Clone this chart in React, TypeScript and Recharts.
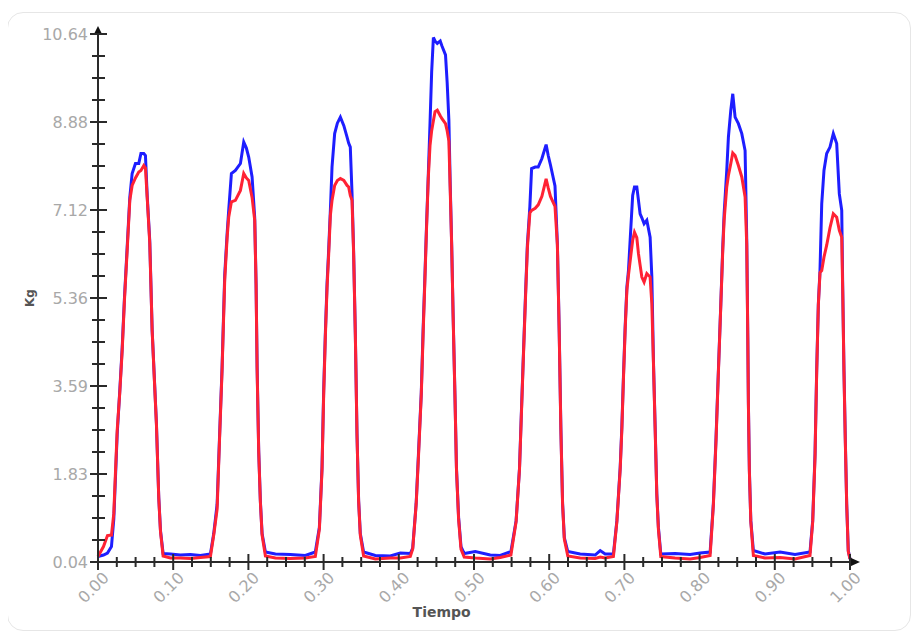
import React from 'react';
import { LineChart, Line, XAxis, YAxis } from 'recharts';

// Tiempo (x) sample positions
const time = [
  0.0, 0.0073, 0.0126, 0.0179, 0.021, 0.0255, 0.029, 0.0322, 0.0352, 0.0388, 0.0423, 0.0454, 0.0498, 0.0542, 0.0571, 0.0609, 0.0631, 0.0654, 0.0688, 0.072, 0.0751, 0.0777, 0.0808, 0.0831, 0.0866,
  0.0963, 0.1096, 0.1229, 0.1362, 0.1495,
  0.1539, 0.1584, 0.1615, 0.165, 0.1685, 0.1717, 0.1738, 0.1774, 0.1827, 0.1894, 0.1938, 0.1973, 0.2004, 0.2049, 0.2084, 0.2102, 0.2116, 0.2137, 0.2159, 0.2182, 0.2226,
  0.2359, 0.2558, 0.2757, 0.289,
  0.2944, 0.2979, 0.3001, 0.3023, 0.3046, 0.3067, 0.309, 0.3112, 0.3147, 0.3183, 0.3223, 0.3269, 0.3312, 0.3333, 0.3355, 0.3378, 0.3399, 0.3422, 0.3444, 0.3466, 0.3488, 0.3532,
  0.3688, 0.3887, 0.402, 0.4153,
  0.4185, 0.4231, 0.4263, 0.4299, 0.4323, 0.4346, 0.4368, 0.4392, 0.4415, 0.4437, 0.446, 0.4482, 0.4512, 0.4551, 0.4574, 0.4621, 0.4643, 0.4666, 0.4684, 0.4703, 0.4722, 0.4748, 0.4767, 0.4795, 0.4827, 0.487,
  0.5017, 0.5216, 0.5349, 0.5491,
  0.556, 0.5605, 0.5628, 0.5652, 0.5684, 0.571, 0.5743, 0.5766, 0.5814, 0.5854, 0.5903, 0.5959, 0.5987, 0.6017, 0.6077, 0.6109, 0.6133, 0.6155, 0.6178, 0.6201, 0.6247,
  0.6412, 0.6611, 0.6678, 0.6744, 0.6854,
  0.69, 0.6944, 0.6966, 0.6987, 0.701, 0.7033, 0.7054, 0.7086, 0.711, 0.7134, 0.7165, 0.7187, 0.7209, 0.7232, 0.7262, 0.7298, 0.7342, 0.7365, 0.7386, 0.7409, 0.7431, 0.7452, 0.7484,
  0.7674, 0.7874, 0.8007, 0.814,
  0.8183, 0.8219, 0.825, 0.8282, 0.8308, 0.8326, 0.8361, 0.8383, 0.8415, 0.8441, 0.8472, 0.8516, 0.8561, 0.8605, 0.8627, 0.8641, 0.8649, 0.8662, 0.8681, 0.8715,
  0.887, 0.907, 0.9269, 0.9468,
  0.9504, 0.9535, 0.9557, 0.9579, 0.9601, 0.9624, 0.9654, 0.969, 0.9734, 0.9778, 0.9823, 0.9858, 0.989, 0.9903, 0.992, 0.9937, 0.9956, 0.9977, 1.0,
];

// Blue series (Kg)
const blueKg = [
  0.15, 0.18, 0.22, 0.35, 0.9, 2.6, 3.49, 4.35, 5.35, 6.36, 7.36, 7.84, 8.04, 8.04, 8.24, 8.24, 8.2, 7.4, 6.5, 4.7, 3.68, 2.82, 1.34, 0.67, 0.21,
  0.2, 0.18, 0.19, 0.17, 0.2,
  0.61, 1.2, 2.5, 3.95, 5.8, 6.63, 7.1, 7.84, 7.9, 8.04, 8.47, 8.35, 8.17, 7.77, 6.95, 5.63, 3.95, 2.28, 1.27, 0.61, 0.24,
  0.2, 0.19, 0.17, 0.24,
  0.74, 1.94, 3.48, 4.62, 5.63, 6.29, 7.1, 7.97, 8.64, 8.85, 8.97, 8.8, 8.57, 8.45, 8.37, 7.44, 6.29, 4.62, 2.62, 1.27, 0.61, 0.24,
  0.17, 0.16, 0.22, 0.21,
  0.32, 1.22, 2.26, 3.44, 4.69, 5.72, 6.76, 7.8, 8.84, 9.88, 10.57, 10.5, 10.45, 10.5, 10.4, 10.22, 9.67, 8.91, 7.6, 6.42, 5.03, 3.3, 1.92, 0.94, 0.35, 0.21,
  0.25, 0.18, 0.17, 0.25,
  0.87, 1.92, 2.95, 3.99, 5.37, 6.42, 7.18, 7.94, 7.97, 7.97, 8.14, 8.42, 8.2, 8.01, 7.59, 6.42, 4.69, 2.74, 1.22, 0.53, 0.25,
  0.2, 0.18, 0.27, 0.2, 0.2,
  0.87, 1.94, 2.75, 3.75, 4.76, 5.56, 5.89, 6.76, 7.4, 7.57, 7.57, 7.3, 7.03, 6.95, 6.83, 6.9, 6.56, 5.76, 4.09, 2.75, 1.41, 0.74, 0.2,
  0.21, 0.19, 0.22, 0.24,
  1.21, 2.55, 3.89, 5.22, 6.36, 7.03, 7.9, 8.57, 9.11, 9.44, 8.97, 8.84, 8.64, 8.3, 6.5, 4.55, 3.22, 1.88, 0.87, 0.27,
  0.2, 0.24, 0.19, 0.24,
  0.87, 2.21, 3.89, 5.22, 5.89, 7.23, 7.9, 8.24, 8.37, 8.64, 8.44, 7.43, 7.1, 5.56, 3.89, 2.55, 1.21, 0.27, 0.1,
];

// Red series (Kg)
const redKg = [
  0.15, 0.35, 0.57, 0.58, 1.01, 2.68, 3.45, 4.3, 5.3, 6.3, 7.3, 7.6, 7.75, 7.87, 7.9, 8.0, 7.95, 7.36, 6.45, 4.69, 3.65, 2.8, 1.32, 0.65, 0.16,
  0.12, 0.12, 0.11, 0.13, 0.15,
  0.58, 1.1, 2.45, 3.9, 5.7, 6.55, 6.96, 7.27, 7.3, 7.5, 7.84, 7.75, 7.7, 7.36, 6.9, 5.6, 3.9, 2.25, 1.25, 0.58, 0.16,
  0.12, 0.11, 0.12, 0.15,
  0.7, 1.9, 3.4, 4.55, 5.55, 6.2, 7.0, 7.3, 7.6, 7.7, 7.74, 7.7, 7.6, 7.57, 7.4, 7.3, 6.25, 4.6, 2.6, 1.25, 0.58, 0.16,
  0.1, 0.12, 0.12, 0.15,
  0.3, 1.2, 2.2, 3.4, 4.6, 5.65, 6.7, 7.75, 8.4, 8.7, 8.9, 9.08, 9.11, 9.0, 8.94, 8.84, 8.7, 8.49, 7.5, 6.4, 5.0, 3.28, 1.9, 0.9, 0.3, 0.14,
  0.12, 0.1, 0.13, 0.18,
  0.85, 1.9, 2.9, 3.95, 5.3, 6.35, 7.05, 7.1, 7.14, 7.21, 7.38, 7.73, 7.55, 7.38, 7.18, 6.4, 4.65, 2.7, 1.2, 0.5, 0.16,
  0.12, 0.11, 0.14, 0.12, 0.15,
  0.85, 1.9, 2.7, 3.7, 4.7, 5.5, 5.8, 6.2, 6.5, 6.66, 6.55, 6.23, 6.0, 5.76, 5.66, 5.83, 5.76, 5.22, 4.05, 2.7, 1.38, 0.7, 0.15,
  0.12, 0.1, 0.13, 0.17,
  1.18, 2.5, 3.85, 5.2, 6.3, 6.9, 7.57, 7.8, 8.04, 8.25, 8.2, 8.0, 7.77, 7.37, 6.4, 4.5, 3.2, 1.85, 0.85, 0.17,
  0.12, 0.13, 0.1, 0.17,
  0.85, 2.15, 3.85, 5.2, 5.85, 5.89, 6.16, 6.4, 6.75, 7.03, 6.96, 6.7, 6.56, 5.5, 3.85, 2.5, 1.2, 0.25, 0.1,
];

const yTickLabels = ['0.04', '1.83', '3.59', '5.36', '7.12', '8.88', '10.64'];
const xTickLabels = ['0.00', '0.10', '0.20', '0.30', '0.40', '0.50', '0.60', '0.70', '0.80', '0.90', '1.00'];

const Y_MIN = 0.04;
const Y_MAX = 10.64;
const Y_MINOR = 4;
const X_MINOR = 4;

const data = time.map((t, i) => ({ t, blue: blueKg[i], red: redKg[i] }));

const yTicks = Array.from({ length: (yTickLabels.length - 1) * Y_MINOR + 1 }, (_, i) =>
  Y_MIN + (i * (Y_MAX - Y_MIN)) / ((yTickLabels.length - 1) * Y_MINOR)
);
const xTicks = Array.from({ length: (xTickLabels.length - 1) * X_MINOR + 1 }, (_, i) =>
  i / ((xTickLabels.length - 1) * X_MINOR)
);

const FONT = '"DejaVu Sans", Verdana, sans-serif';
const AXIS = '#2a2a2a';
const TICK_TEXT = '#a8a8a8';

function XTick(props: any) {
  const { x, y, index } = props;
  const major = index % X_MINOR === 0;
  const ax = x + 8;
  const ay = y + 13;
  return (
    <g>
      <line x1={x} x2={x} y1={y - (major ? 8 : 5)} y2={y + (major ? 8 : 5)} stroke={AXIS} strokeWidth={2} />
      {major && (
        <text
          x={ax}
          y={ay}
          transform={`rotate(-45 ${ax} ${ay})`}
          textAnchor="end"
          dominantBaseline="central"
          fontFamily={FONT}
          fontSize={16}
          fill={TICK_TEXT}
        >
          {xTickLabels[index / X_MINOR]}
        </text>
      )}
    </g>
  );
}

function YTick(props: any) {
  const { x, y, index } = props;
  const major = index % Y_MINOR === 0;
  return (
    <g>
      <line x1={x - (major ? 8 : 6)} x2={x + (major ? 9 : 7)} y1={y} y2={y} stroke={AXIS} strokeWidth={2} />
      {major && (
        <text x={x - 10} y={y} textAnchor="end" dominantBaseline="central" fontFamily={FONT} fontSize={16} fill={TICK_TEXT}>
          {yTickLabels[index / Y_MINOR]}
        </text>
      )}
    </g>
  );
}

function YDecor(props: any) {
  const vb = props.viewBox || {};
  const ax = vb.x + vb.width;
  const top = vb.y;
  const midY = vb.y + vb.height / 2;
  return (
    <g>
      <line x1={ax} x2={ax} y1={top} y2={top - 3} stroke={AXIS} strokeWidth={2} />
      <path d={`M${ax - 4.5},${top + 1} L${ax},${top - 8} L${ax + 4.5},${top + 1} Z`} fill="#111" />
      <text
        x={22}
        y={midY}
        transform={`rotate(-90 22 ${midY})`}
        textAnchor="middle"
        dominantBaseline="central"
        fontFamily={FONT}
        fontSize={12}
        fontWeight="bold"
        fill="#555"
      >
        Kg
      </text>
    </g>
  );
}

function XDecor(props: any) {
  const vb = props.viewBox || {};
  const right = vb.x + vb.width;
  const ay = vb.y;
  return (
    <g>
      <path d={`M${right},${ay - 4.5} L${right + 10},${ay} L${right},${ay + 4.5} Z`} fill="#111" />
      <text
        x={vb.x + vb.width * 0.457}
        y={ay + 55}
        textAnchor="middle"
        fontFamily={FONT}
        fontSize={14}
        fontWeight="bold"
        fill="#555"
      >
        Tiempo
      </text>
    </g>
  );
}

export default function App() {
  return (
    <div style={{ position: 'relative', width: 904, height: 626 }}>
      <div
        style={{
          position: 'absolute',
          left: -1,
          top: 4,
          width: 904,
          height: 619,
          border: '1px solid #e6e6e6',
          borderRadius: 16,
          boxSizing: 'border-box',
        }}
      />
      <div style={{ position: 'absolute', left: 0, top: 0 }}>
        <LineChart width={904} height={626} data={data} margin={{ top: 26, right: 62, left: 0, bottom: 12 }}>
          <XAxis
            dataKey="t"
            type="number"
            domain={[0, 1]}
            ticks={xTicks}
            interval={0}
            tickSize={0}
            tickMargin={0}
            tickLine={false}
            axisLine={{ stroke: AXIS, strokeWidth: 2 }}
            tick={<XTick />}
            height={60}
            label={<XDecor />}
          />
          <YAxis
            type="number"
            domain={[Y_MIN, Y_MAX]}
            ticks={yTicks}
            interval={0}
            tickSize={0}
            tickMargin={0}
            tickLine={false}
            axisLine={{ stroke: AXIS, strokeWidth: 2 }}
            tick={<YTick />}
            width={90}
            allowDataOverflow
            label={<YDecor />}
          />
          <Line type="linear" dataKey="blue" stroke="#1e1eff" strokeWidth={3} dot={false} isAnimationActive={false} />
          <Line type="linear" dataKey="red" stroke="#ff2234" strokeWidth={3} dot={false} isAnimationActive={false} />
        </LineChart>
      </div>
    </div>
  );
}
